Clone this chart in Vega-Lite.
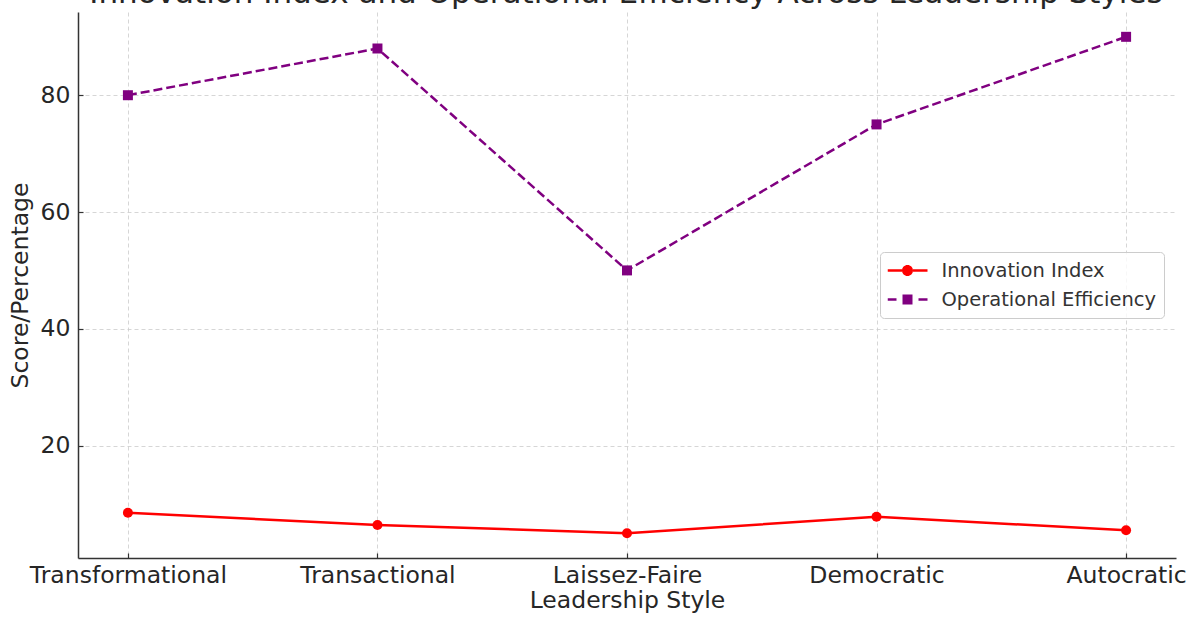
{
  "$schema": "https://vega.github.io/schema/vega-lite/v6.json",
  "width": 1098,
  "height": 546,
  "autosize": {"type": "none"},
  "padding": {"top": 12, "left": 78, "right": 19, "bottom": 60},
  "background": "white",
  "title": {
    "text": "Innovation Index and Operational Efficiency Across Leadership Styles",
    "font": "DejaVu Sans",
    "fontSize": 31,
    "fontWeight": "normal",
    "color": "#262626",
    "baseline": "alphabetic",
    "offset": -22,
    "dx": -1,
    "anchor": "middle"
  },
  "config": {
    "view": {"stroke": null},
    "font": "DejaVu Sans",
    "axis": {
      "labelFont": "DejaVu Sans",
      "titleFont": "DejaVu Sans",
      "labelFontSize": 23.5,
      "titleFontSize": 23.5,
      "titleFontWeight": "normal",
      "labelColor": "#262626",
      "titleColor": "#262626",
      "labelLimit": 400,
      "domainColor": "#333333",
      "domainWidth": 1.5,
      "grid": true,
      "gridColor": "#cccccc",
      "gridDash": [4, 3],
      "gridWidth": 0.8,
      "ticks": true,
      "tickColor": "#333333",
      "tickSize": -5,
      "tickWidth": 1.2
    }
  },
  "data": {
    "values": [
      {"style": "Transformational", "series": "Innovation Index", "value": 8.5},
      {"style": "Transactional", "series": "Innovation Index", "value": 6.4},
      {"style": "Laissez-Faire", "series": "Innovation Index", "value": 5.0},
      {"style": "Democratic", "series": "Innovation Index", "value": 7.8},
      {"style": "Autocratic", "series": "Innovation Index", "value": 5.5},
      {"style": "Transformational", "series": "Operational Efficiency", "value": 80},
      {"style": "Transactional", "series": "Operational Efficiency", "value": 88},
      {"style": "Laissez-Faire", "series": "Operational Efficiency", "value": 50},
      {"style": "Democratic", "series": "Operational Efficiency", "value": 75},
      {"style": "Autocratic", "series": "Operational Efficiency", "value": 90}
    ]
  },
  "encoding": {
    "x": {
      "field": "style",
      "type": "ordinal",
      "sort": ["Transformational", "Transactional", "Laissez-Faire", "Democratic", "Autocratic"],
      "scale": {"type": "point", "padding": 0.2},
      "axis": {"title": "Leadership Style", "labelAngle": 0, "labelPadding": 10, "titlePadding": 2}
    },
    "y": {
      "field": "value",
      "type": "quantitative",
      "scale": {"domain": [0.75, 94.25], "nice": false, "zero": false},
      "axis": {"title": "Score/Percentage", "values": [20, 40, 60, 80], "labelPadding": 13, "titlePadding": 8}
    }
  },
  "layer": [
    {
      "transform": [{"filter": "datum.series === 'Innovation Index'"}],
      "mark": {"type": "line", "color": "#ff0000", "strokeWidth": 2.5}
    },
    {
      "transform": [{"filter": "datum.series === 'Innovation Index'"}],
      "mark": {"type": "point", "shape": "circle", "filled": true, "opacity": 1, "color": "#ff0000", "size": 100}
    },
    {
      "transform": [{"filter": "datum.series === 'Operational Efficiency'"}],
      "mark": {"type": "line", "color": "#800080", "strokeWidth": 2.5, "strokeDash": [9, 4]}
    },
    {
      "transform": [{"filter": "datum.series === 'Operational Efficiency'"}],
      "mark": {"type": "point", "shape": "square", "filled": true, "opacity": 1, "color": "#800080", "size": 100}
    },
    {
      "transform": [{"filter": "datum.value < -1000"}],
      "mark": {"type": "point", "filled": true, "opacity": 1},
      "encoding": {
        "color": {
          "field": "series",
          "type": "nominal",
          "scale": {"domain": ["Innovation Index", "Operational Efficiency"], "range": ["#ff0000", "#800080"]},
          "legend": {
            "title": null,
            "orient": "none",
            "legendX": 802,
            "legendY": 240,
            "padding": 7.5,
            "strokeColor": "#cccccc",
            "fillColor": "rgba(255,255,255,0.8)",
            "cornerRadius": 4,
            "labelFont": "DejaVu Sans",
            "labelFontSize": 19.5,
            "labelColor": "#333333",
            "labelLimit": 400,
            "labelOffset": 14,
            "symbolSize": 1600,
            "symbolStrokeWidth": 0,
            "symbolOpacity": 1,
            "clipHeight": 22,
            "rowPadding": 7
          }
        },
        "shape": {
          "field": "series",
          "type": "nominal",
          "scale": {
            "domain": ["Innovation Index", "Operational Efficiency"],
            "range": [
              "M-1,-0.0625H-0.275V0.0625H-1Z M0.275,-0.0625H1V0.0625H0.275Z M0.275,0A0.275,0.275 0 1,1 -0.275,0A0.275,0.275 0 1,1 0.275,0Z",
              "M-1,-0.0625H-0.55V0.0625H-1Z M0.55,-0.0625H1V0.0625H0.55Z M-0.25,-0.25H0.25V0.25H-0.25Z"
            ]
          }
        }
      }
    }
  ]
}
